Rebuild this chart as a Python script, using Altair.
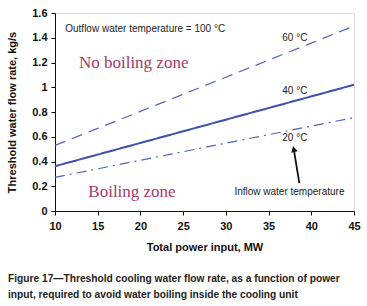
import altair as alt
import pandas as pd

power = [10, 15, 20, 25, 30, 35, 40, 45]
flow_60 = [0.530, 0.668, 0.805, 0.943, 1.081, 1.219, 1.357, 1.495]
flow_40 = [0.362, 0.456, 0.550, 0.644, 0.738, 0.832, 0.926, 1.020]
flow_20 = [0.272, 0.341, 0.410, 0.479, 0.548, 0.617, 0.686, 0.755]

x_ticks = [10, 15, 20, 25, 30, 35, 40, 45]
y_ticks = [0, 0.2, 0.4, 0.6, 0.8, 1.0, 1.2, 1.4, 1.6]

labels = ["60 °C", "40 °C", "20 °C"]
label_x = [36.6, 36.6, 36.6]
label_y = [1.40, 0.97, 0.59]

caption = ["Figure 17—Threshold cooling water flow rate, as a function of power",
           "input, required to avoid water boiling inside the cooling unit"]

df = pd.DataFrame({
    "power": power * 3,
    "flow": flow_60 + flow_40 + flow_20,
    "series": ["60"] * 8 + ["40"] * 8 + ["20"] * 8,
})

xs = alt.Scale(domain=[10, 45], nice=False, zero=False)
ys = alt.Scale(domain=[0, 1.6], nice=False)

FONT = "Liberation Sans"
LINE = "#3f4fae"

base = alt.Chart(df)

xaxis = alt.Axis(values=x_ticks, grid=False, title="Total power input, MW",
                 labelFont=FONT, labelFontWeight="bold", labelFontSize=11, labelColor="#111",
                 titleFont=FONT, titleFontWeight="bold", titleFontSize=11, titleColor="#111",
                 titlePadding=10, tickColor="#111", tickSize=4, domainColor="#111",
                 labelPadding=5, labelFlush=False, labelOverlap=False)
yaxis = alt.Axis(values=y_ticks, grid=False, title="Threshold water flow rate, kg/s",
                 format=".1~f",
                 labelFont=FONT, labelFontWeight="bold", labelFontSize=11, labelColor="#111",
                 titleFont=FONT, titleFontWeight="bold", titleFontSize=11, titleColor="#111",
                 titlePadding=14, tickColor="#111", tickSize=4, domainColor="#111",
                 labelPadding=4, labelFlush=False, labelOverlap=False)

def X(f):
    return alt.X(f, scale=xs, axis=xaxis)

def Y(f):
    return alt.Y(f, scale=ys, axis=yaxis)

def line(series, dash, width, color):
    return base.transform_filter(alt.datum.series == series).mark_line(
        strokeDash=dash, strokeWidth=width, color=color
    ).encode(x=X("power:Q"), y=Y("flow:Q"))

l60 = line("60", [11, 7], 1.2, "#5262bd")
l40 = line("40", [1, 0], 2.0, LINE)
l20 = line("20", [10, 5, 2, 5], 1.2, "#5262bd")

lab_df = pd.DataFrame({"t": labels, "x": label_x, "y": label_y})
lab = alt.Chart(lab_df).mark_text(font=FONT, fontSize=10, color="#222", align="left", baseline="middle").encode(
    x=X("x:Q"), y=Y("y:Q"), text="t:N")

ann_df = pd.DataFrame({
    "t": ["Outflow water temperature = 100 °C", "Inflow water temperature"],
    "x": [11.2, 31.0],
    "y": [1.47, 0.15],
})
ann = alt.Chart(ann_df).mark_text(font=FONT, fontSize=10, color="#222", align="left", baseline="middle").encode(
    x=X("x:Q"), y=Y("y:Q"), text="t:N")

zone_df = pd.DataFrame({"t": ["No boiling zone", "Boiling zone"], "x": [12.8, 13.9], "y": [1.20, 0.15]})
zones = alt.Chart(zone_df).mark_text(font="Liberation Serif", fontSize=17, color="#a8386a", align="left", baseline="middle").encode(
    x=X("x:Q"), y=Y("y:Q"), text="t:N")

arrow_df = pd.DataFrame({"x": [38.6], "y": [0.225], "x2": [37.95], "y2": [0.50]})
arrow = alt.Chart(arrow_df).mark_rule(color="#111", strokeWidth=1.8).encode(
    x=X("x:Q"), y=Y("y:Q"), x2="x2:Q", y2="y2:Q")
head_df = pd.DataFrame({"x": [37.95], "y": [0.50]})
head = alt.Chart(head_df).mark_point(shape="triangle-up", filled=True, size=45, color="#111", opacity=1, angle=347).encode(
    x=X("x:Q"), y=Y("y:Q"))

cap1 = alt.Chart(pd.DataFrame({"t": [caption[0]]})).mark_text(
    font=FONT, fontSize=10.2, fontWeight="bold", color="#222", align="left", baseline="middle"
).encode(x=alt.value(-47), y=alt.value(266), text="t:N")
cap2 = alt.Chart(pd.DataFrame({"t": [caption[1]]})).mark_text(
    font=FONT, fontSize=10.2, fontWeight="bold", color="#222", align="left", baseline="middle"
).encode(x=alt.value(-47), y=alt.value(282), text="t:N")

chart = alt.layer(l60, l40, l20, lab, ann, zones, arrow, head, cap1, cap2).properties(
    width=299, height=198,
    autosize=alt.AutoSizeParams(type="none"),
    padding={"left": 55, "top": 13, "right": 13, "bottom": 95},
).configure_view(stroke="#111", strokeWidth=1.2).configure(background="white")

chart.save("out.html", embed_options={"renderer": "svg", "actions": False})
